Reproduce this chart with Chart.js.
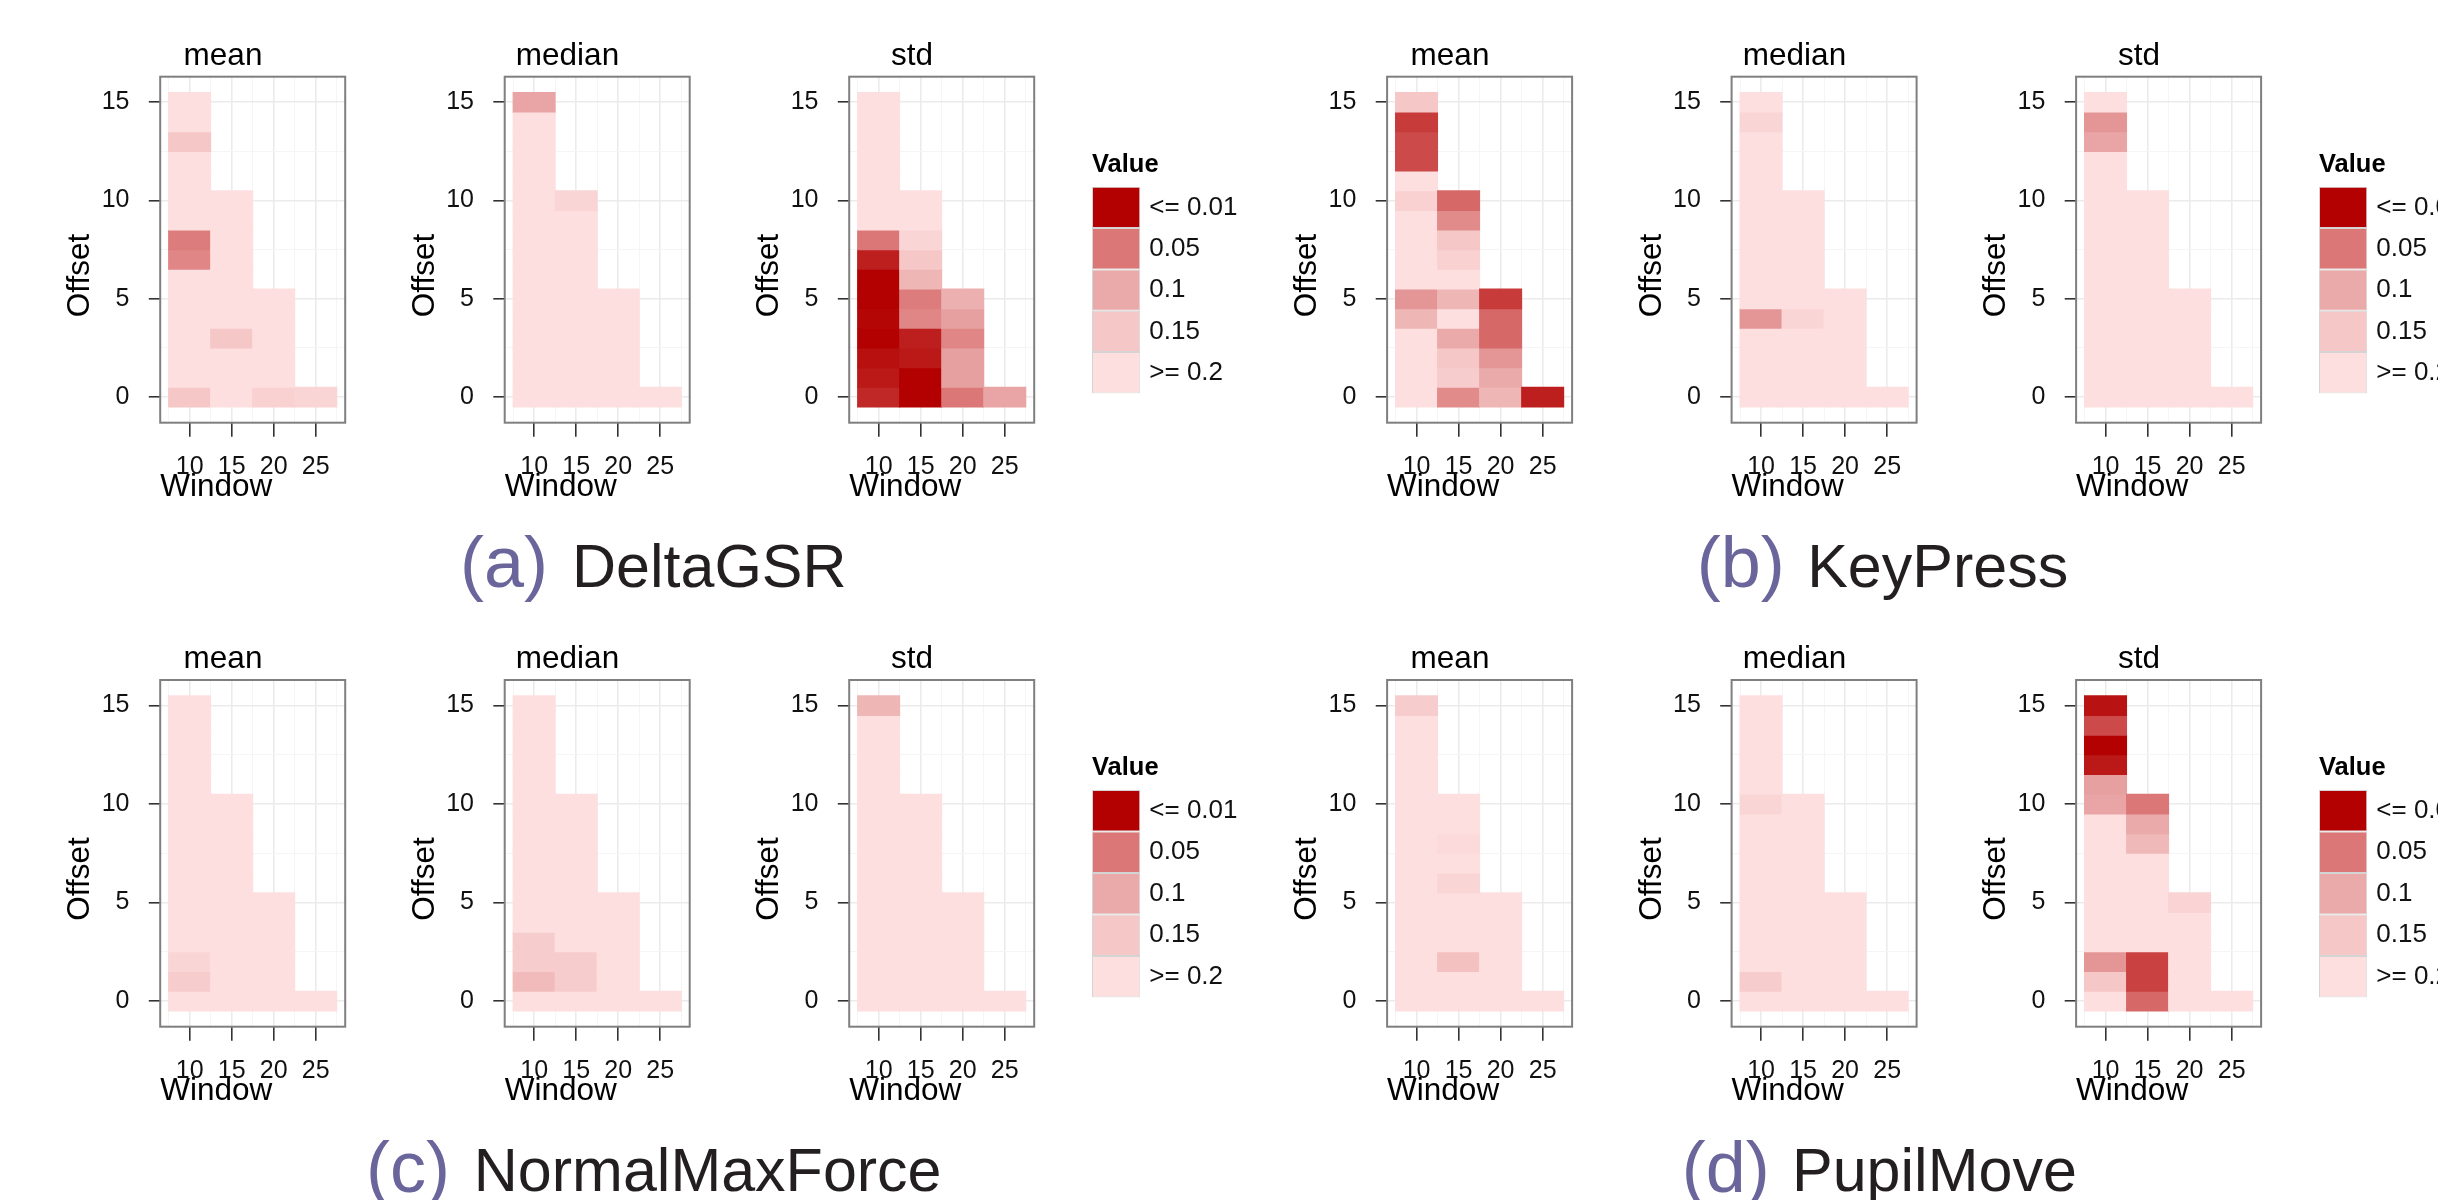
<!DOCTYPE html>
<html>
<head>
<meta charset="utf-8">
<script src="https://cdn.jsdelivr.net/npm/chart.js@4/dist/chart.umd.min.js"></script>
<style>
  html, body { margin: 0; padding: 0; width: 2438px; height: 1200px; overflow: hidden; background: #fff; }
  .wrap { position: absolute; }
  .wrap canvas { display: block; }
  .cap { position: absolute; white-space: nowrap;
         font-family: 'Liberation Sans', Arial, Helvetica, sans-serif; }
  .lab { font-size: 72px; line-height: 72px; color: #6A659B; }
  .word { font-size: 61px; line-height: 61px; color: #231F20; }
</style>
</head>
<body>
<script>
// ---------------- DATA ----------------
const windows = [10, 15, 20, 25];
const stats = ['mean', 'median', 'std'];
const variables = ['DeltaGSR', 'KeyPress', 'NormalMaxForce', 'PupilMove'];
const captionLabels = ['(a)', '(b)', '(c)', '(d)'];

const xMajor = [10, 15, 20, 25];
const xMinor = [7.5, 12.5, 17.5, 22.5, 27.5];
const yMajor = [0, 5, 10, 15];
const yMinor = [2.5, 7.5, 12.5];

const legendLabels = ['<= 0.01', '0.05', '0.1', '0.15', '>= 0.2'];
const legendValues = [0.01, 0.05, 0.1, 0.15, 0.2];

// p-values per window column (10, 15, 20, 25), indexed by offset 0..n
const deltaGSR_mean = [
  [0.15, 0.3, 0.3, 0.3, 0.3, 0.3, 0.3, 0.065, 0.055, 0.3, 0.3, 0.3, 0.3, 0.15, 0.3, 0.3],
  [0.3, 0.3, 0.3, 0.15, 0.3, 0.3, 0.3, 0.3, 0.3, 0.3, 0.3],
  [0.17, 0.3, 0.3, 0.3, 0.3, 0.3],
  [0.18]
];
const deltaGSR_median = [
  [0.3, 0.3, 0.3, 0.3, 0.3, 0.3, 0.3, 0.3, 0.3, 0.3, 0.3, 0.3, 0.3, 0.3, 0.3, 0.095],
  [0.3, 0.3, 0.3, 0.3, 0.3, 0.3, 0.3, 0.3, 0.3, 0.3, 0.18],
  [0.3, 0.3, 0.3, 0.3, 0.3, 0.3],
  [0.3]
];
const deltaGSR_std = [
  [0.023, 0.018, 0.015, 0.005, 0.012, 0.005, 0.005, 0.02, 0.05, 0.3, 0.3, 0.3, 0.3, 0.3, 0.3, 0.3],
  [0.005, 0.005, 0.018, 0.02, 0.065, 0.055, 0.12, 0.15, 0.18, 0.3, 0.3],
  [0.05, 0.09, 0.09, 0.065, 0.09, 0.11],
  [0.095]
];
const keyPress_mean = [
  [0.3, 0.3, 0.3, 0.3, 0.12, 0.08, 0.3, 0.3, 0.3, 0.3, 0.17, 0.3, 0.035, 0.035, 0.03, 0.15],
  [0.07, 0.16, 0.15, 0.1, 0.25, 0.12, 0.3, 0.17, 0.15, 0.07, 0.045],
  [0.12, 0.1, 0.08, 0.045, 0.045, 0.03],
  [0.02]
];
const keyPress_median = [
  [0.3, 0.3, 0.3, 0.3, 0.08, 0.3, 0.3, 0.3, 0.3, 0.3, 0.3, 0.3, 0.3, 0.3, 0.18, 0.3],
  [0.3, 0.3, 0.3, 0.3, 0.18, 0.3, 0.3, 0.3, 0.3, 0.3, 0.3],
  [0.3, 0.3, 0.3, 0.3, 0.3, 0.3],
  [0.3]
];
const keyPress_std = [
  [0.3, 0.3, 0.3, 0.3, 0.3, 0.3, 0.3, 0.3, 0.3, 0.3, 0.3, 0.3, 0.3, 0.095, 0.08, 0.3],
  [0.3, 0.3, 0.3, 0.3, 0.3, 0.3, 0.3, 0.3, 0.3, 0.3, 0.3],
  [0.3, 0.3, 0.3, 0.3, 0.3, 0.3],
  [0.3]
];
const normalMaxForce_mean = [
  [0.3, 0.16, 0.18, 0.3, 0.3, 0.3, 0.3, 0.3, 0.3, 0.3, 0.3, 0.3, 0.3, 0.3, 0.3, 0.3],
  [0.3, 0.3, 0.3, 0.3, 0.3, 0.3, 0.3, 0.3, 0.3, 0.3, 0.3],
  [0.3, 0.3, 0.3, 0.3, 0.3, 0.3],
  [0.3]
];
const normalMaxForce_median = [
  [0.3, 0.13, 0.16, 0.16, 0.3, 0.3, 0.3, 0.3, 0.3, 0.3, 0.3, 0.3, 0.3, 0.3, 0.3, 0.3],
  [0.3, 0.16, 0.16, 0.3, 0.3, 0.3, 0.3, 0.3, 0.3, 0.3, 0.3],
  [0.3, 0.3, 0.3, 0.3, 0.3, 0.3],
  [0.3]
];
const normalMaxForce_std = [
  [0.3, 0.3, 0.3, 0.3, 0.3, 0.3, 0.3, 0.3, 0.3, 0.3, 0.3, 0.3, 0.3, 0.3, 0.3, 0.12],
  [0.3, 0.3, 0.3, 0.3, 0.3, 0.3, 0.3, 0.3, 0.3, 0.3, 0.3],
  [0.3, 0.3, 0.3, 0.3, 0.3, 0.3],
  [0.3]
];
const pupilMove_mean = [
  [0.3, 0.3, 0.3, 0.3, 0.3, 0.3, 0.3, 0.3, 0.3, 0.3, 0.3, 0.3, 0.3, 0.3, 0.3, 0.16],
  [0.3, 0.3, 0.14, 0.3, 0.3, 0.3, 0.18, 0.3, 0.19, 0.3, 0.3],
  [0.3, 0.3, 0.3, 0.3, 0.3, 0.3],
  [0.3]
];
const pupilMove_median = [
  [0.3, 0.16, 0.3, 0.3, 0.3, 0.3, 0.3, 0.3, 0.3, 0.3, 0.18, 0.3, 0.3, 0.3, 0.3, 0.3],
  [0.3, 0.3, 0.3, 0.3, 0.3, 0.3, 0.3, 0.3, 0.3, 0.3, 0.3],
  [0.3, 0.3, 0.3, 0.3, 0.3, 0.3],
  [0.3]
];
const pupilMove_std = [
  [0.3, 0.15, 0.08, 0.3, 0.3, 0.3, 0.3, 0.3, 0.3, 0.3, 0.095, 0.09, 0.018, 0.005, 0.035, 0.016],
  [0.045, 0.032, 0.032, 0.3, 0.3, 0.3, 0.3, 0.3, 0.125, 0.1, 0.05],
  [0.3, 0.3, 0.3, 0.3, 0.3, 0.175],
  [0.3]
];

const panelData = [
  [deltaGSR_mean, deltaGSR_median, deltaGSR_std],
  [keyPress_mean, keyPress_median, keyPress_std],
  [normalMaxForce_mean, normalMaxForce_median, normalMaxForce_std],
  [pupilMove_mean, pupilMove_median, pupilMove_std]
];

// ---------------- COLOUR SCALE ----------------
const scaleStops = [0.01, 0.05, 0.1, 0.15, 0.2];
const scaleRGB = [[179, 0, 0], [220, 119, 119], [234, 170, 170], [246, 199, 199], [253, 223, 224]];
function pColor(p) {
  const toCss = c => `rgb(${Math.round(c[0])},${Math.round(c[1])},${Math.round(c[2])})`;
  if (p <= scaleStops[0]) return toCss(scaleRGB[0]);
  for (let i = 1; i < scaleStops.length; i++) {
    if (p <= scaleStops[i]) {
      const t = (p - scaleStops[i - 1]) / (scaleStops[i] - scaleStops[i - 1]);
      const a = scaleRGB[i - 1], b = scaleRGB[i];
      return toCss([a[0] + (b[0] - a[0]) * t, a[1] + (b[1] - a[1]) * t, a[2] + (b[2] - a[2]) * t]);
    }
  }
  return toCss(scaleRGB[scaleRGB.length - 1]);
}

// ---------------- LAYOUT ----------------
const FONT = "'Liberation Sans', Arial, Helvetica, sans-serif";
Chart.defaults.font.family = FONT;
Chart.defaults.color = '#000';

const TITLE_FS = 31.5, TICK_FS = 25;
const PANEL_W = 185, PANEL_STEP = 344.5, LEGEND_DX = 243;
const rowTop = [76.7, 680];
const rowBottom = [422.7, 1026.7];
const groupLayout = [
  { row: 0, x0: 160.2,  labX: 460,    wordX: 572 },
  { row: 0, x0: 1387.1, labX: 1696.7, wordX: 1807.2 },
  { row: 1, x0: 160.2,  labX: 366,    wordX: 473.8 },
  { row: 1, x0: 1387.1, labX: 1681.7, wordX: 1792 }
];
const capBaseline = [587.3, 1191.7];

const near = (arr, v) => arr.some(a => Math.abs(a - v) < 1e-6);

const panelBorder = {
  id: 'panelBorder',
  afterDatasetsDraw(chart) {
    const { ctx, chartArea: a } = chart;
    ctx.save();
    ctx.strokeStyle = '#7F7F7F';
    ctx.lineWidth = 2;
    ctx.strokeRect(a.left, a.top, a.right - a.left, a.bottom - a.top);
    ctx.restore();
  }
};

function makeCanvas(left, top, w, h) {
  const wrap = document.createElement('div');
  wrap.className = 'wrap';
  wrap.style.left = left + 'px';
  wrap.style.top = top + 'px';
  const cv = document.createElement('canvas');
  cv.width = w; cv.height = h;
  cv.style.width = w + 'px'; cv.style.height = h + 'px';
  wrap.appendChild(cv);
  document.body.appendChild(wrap);
  return cv;
}

function makePanel(L, T, B, statName, cols) {
  const lh = TITLE_FS * 1.2;
  const SUB_PT = 4;
  const SUB_W = lh + SUB_PT;
  const offsetCenterDX = 80;            // "Offset" middle is 80px left of the panel
  const titleCenterDX = 63;             // panel title centred 63px right of panel left
  const left = Math.round(L - offsetCenterDX - SUB_PT - lh / 2);
  const caLeft = L - left;
  const W = Math.round(2 * (L + titleCenterDX - left));
  const spacer = W - caLeft - PANEL_W;
  const ct = Math.round(T - lh / 2 - 20.9);
  const cb = Math.round(2 * (T + 199) - ct);
  const titlePb = (T - ct) - lh;
  const xH = cb - B;
  const xTitlePb = xH - lh / 2 - 64.7;
  const cv = makeCanvas(left, ct, W, cb - ct);

  const pts = [], colors = [];
  cols.forEach((col, wi) => col.forEach((v, off) => {
    pts.push({ x: windows[wi], y: [off - 0.5, off + 0.5] });
    colors.push(pColor(v));
  }));

  const xTicks = xMajor.concat(xMinor).sort((a, b) => a - b);
  const yTicks = yMajor.concat(yMinor).sort((a, b) => a - b);
  const gridColor = (maj) => c => (c.tick && near(maj, c.tick.value)) ? '#EBEBEB' : '#F5F5F5';
  const gridWidth = (maj) => c => (c.tick && near(maj, c.tick.value)) ? 1.6 : 1;
  const tickCol = (maj) => c => (c.tick && near(maj, c.tick.value)) ? '#333' : 'rgba(0,0,0,0)';

  new Chart(cv, {
    type: 'bar',
    data: { datasets: [{ data: pts, backgroundColor: colors, borderWidth: 0,
      barPercentage: 1, categoryPercentage: 2, inflateAmount: 0.5 }] },
    options: {
      responsive: false, animation: false, events: [],
      layout: { padding: 0, autoPadding: false },
      plugins: {
        legend: { display: false }, tooltip: { enabled: false },
        title: { display: true, text: statName, align: 'center', color: '#000',
                 font: { size: TITLE_FS, weight: 'normal', lineHeight: 1.2 }, padding: { top: 0, bottom: titlePb } },
        subtitle: { display: true, text: 'Offset', position: 'left', color: '#000',
                    font: { size: TITLE_FS, weight: 'normal', lineHeight: 1.2 }, padding: { top: SUB_PT, bottom: 0 } }
      },
      scales: {
        x: {
          type: 'linear', min: 6.5, max: 28.5, offset: false,
          afterBuildTicks: sc => { sc.ticks = xTicks.map(v => ({ value: v })); },
          afterFit: sc => { sc.height = xH; },
          ticks: { autoSkip: false, maxRotation: 0, minRotation: 0, padding: 15, color: '#111',
                   font: { size: TICK_FS }, callback: v => near(xMajor, v) ? String(v) : '' },
          grid: { offset: false, drawTicks: true, tickLength: 14,
                  color: gridColor(xMajor), lineWidth: gridWidth(xMajor), tickColor: tickCol(xMajor), tickWidth: 1.6 },
          border: { display: false },
          title: { display: true, text: 'Window', align: 'start', color: '#000',
                   font: { size: TITLE_FS, lineHeight: 1.2 }, padding: { top: 0, bottom: xTitlePb } }
        },
        y: {
          type: 'linear', position: 'left', min: -1.3, max: 16.3,
          afterBuildTicks: sc => { sc.ticks = yTicks.map(v => ({ value: v })); },
          afterFit: sc => { sc.width = caLeft - SUB_W; },
          ticks: { autoSkip: false, padding: 19.3, color: '#111', font: { size: TICK_FS },
                   callback: v => near(yMajor, v) ? String(v) : '' },
          grid: { drawTicks: true, tickLength: 11.4,
                  color: gridColor(yMajor), lineWidth: gridWidth(yMajor), tickColor: tickCol(yMajor), tickWidth: 1.6 },
          border: { display: false },
          title: { display: false }
        },
        y2: {
          type: 'linear', position: 'right', display: true,
          ticks: { display: false }, grid: { display: false, drawTicks: false }, border: { display: false },
          afterFit: sc => { sc.width = spacer; }
        }
      }
    },
    plugins: [panelBorder]
  });
}

function makeLegend(x, T) {
  const kTop = T + 110, kBot = T + 341.6;
  const tlh = 25.5 * 1.2;
  const ct = Math.round(T + 88.5 - tlh / 2);
  const titlePb = kTop - ct - tlh;
  const H = Math.round(kBot) - ct;
  const KEY_W = 48.3, LAB_W = 140;
  const W = Math.round(KEY_W + LAB_W);
  const cv = makeCanvas(Math.round(x), ct, W, H);
  const n = legendLabels.length;
  const bottomUp = legendValues.slice().reverse();
  const tickPos = legendLabels.map((_, i) => i + 0.5);
  new Chart(cv, {
    type: 'bar',
    data: {
      labels: ['Value'],
      datasets: bottomUp.map(v => ({ data: [1], backgroundColor: pColor(v), borderColor: '#D4D4D4',
        borderWidth: 1, borderSkipped: false, barPercentage: 1, categoryPercentage: 1, inflateAmount: 0 }))
    },
    options: {
      responsive: false, animation: false, events: [],
      layout: { padding: 0, autoPadding: false },
      plugins: {
        legend: { display: false }, tooltip: { enabled: false },
        title: { display: true, text: 'Value', align: 'start', color: '#000',
                 font: { size: 25.5, weight: 'bold', lineHeight: 1.2 }, padding: { top: 0, bottom: titlePb } }
      },
      scales: {
        x: { stacked: true, display: false },
        y: {
          stacked: true, position: 'right', min: 0, max: n,
          afterBuildTicks: sc => { sc.ticks = tickPos.map(v => ({ value: v })); },
          afterFit: sc => { sc.width = W - KEY_W; },
          ticks: { autoSkip: false, padding: 9, color: '#111', font: { size: 26 },
                   callback: (v, i) => legendLabels[n - 1 - i] },
          grid: { display: false, drawTicks: false },
          border: { display: false }
        }
      }
    }
  });
}

function makeCaption(g, gi) {
  const base = capBaseline[g.row];
  const lab = document.createElement('div');
  lab.className = 'cap lab';
  lab.textContent = captionLabels[gi];
  lab.style.left = g.labX + 'px';
  lab.style.top = (base - 60.95) + 'px';
  document.body.appendChild(lab);
  const word = document.createElement('div');
  word.className = 'cap word';
  word.textContent = variables[gi];
  word.style.left = g.wordX + 'px';
  word.style.top = (base - 51.6) + 'px';
  document.body.appendChild(word);
}

groupLayout.forEach((g, gi) => {
  const T = rowTop[g.row], B = rowBottom[g.row];
  stats.forEach((st, si) => {
    makePanel(g.x0 + si * PANEL_STEP, T, B, st, panelData[gi][si]);
  });
  makeLegend(g.x0 + 2 * PANEL_STEP + LEGEND_DX, T);
  makeCaption(g, gi);
});
</script>
</body>
</html>
